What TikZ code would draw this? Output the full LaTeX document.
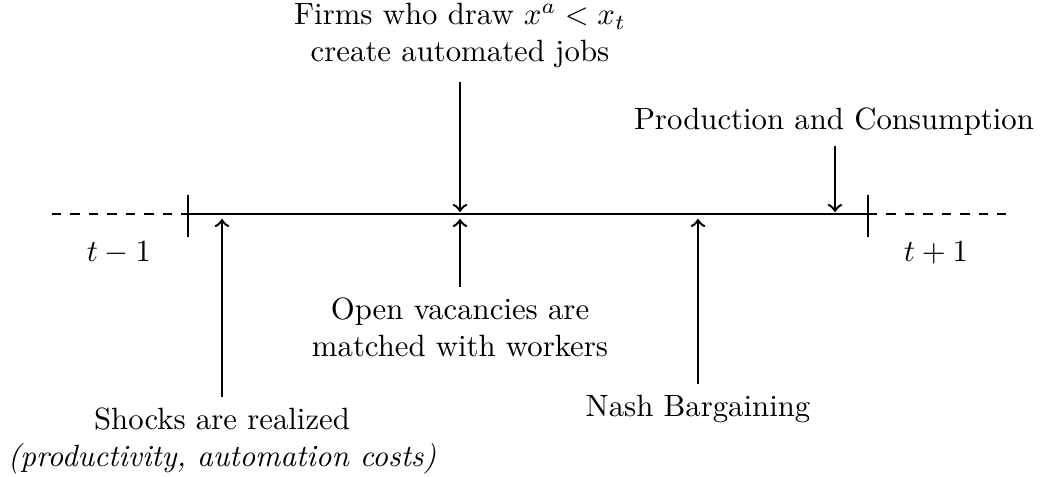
\documentclass[tikz,border=0pt]{standalone}
\begin{document}
\begin{tikzpicture}[x=0.325pt,y=-0.325pt,
  axis/.style={thick},
  dashaxis/.style={thick,dashed},
  tickmark/.style={thick},
  evarrow/.style={thick,->},
  lbl/.style={align=center,inner sep=3.33pt}]
\useasboundingbox (0,0) rectangle (1045,477);
% timeline
\coordinate (L0) at (52,214);
\coordinate (A) at (188,214);
\coordinate (B) at (868,214);
\coordinate (R0) at (1010,214);
\draw[dashaxis] (L0) -- (A);
\draw[axis] (A) -- (B);
\draw[dashaxis] (B) -- (R0);
\draw[tickmark] (188,195) -- (188,237);
\draw[tickmark] (868,195) -- (868,237);
% period labels
\node[anchor=base] (tm) at (119,262) {$t-1$};
\node[anchor=base] (tp) at (936,262) {$t+1$};
% arrow end points on the line
\coordinate (e1u) at (222,219);
\coordinate (e2d) at (460,212);
\coordinate (e2u) at (460,219);
\coordinate (e3u) at (698,219);
\coordinate (e4d) at (835,212);
% labels
\node[lbl,anchor=north] (shocks) at (222,397) {Shocks are realized\\\textit{(productivity, automation costs)}};
\node[lbl,anchor=south] (firms) at (460,79) {Firms who draw $x^a < x_t$\\create automated jobs};
\node[lbl,anchor=north] (open) at (460,287) {Open vacancies are\\matched with workers};
\node[lbl,anchor=north] (nash) at (698,384) {Nash Bargaining};
\node[lbl,anchor=south] (prod) at (834,146) {Production and Consumption};
% arrows
\draw[evarrow] (shocks.north) -- (e1u);
\draw[evarrow,shorten <=1pt] (firms.south) -- (e2d);
\draw[evarrow] (open.north) -- (e2u);
\draw[evarrow] (nash.north) -- (e3u);
\draw[evarrow] (prod.south -| e4d) -- (e4d);
\end{tikzpicture}
\end{document}
